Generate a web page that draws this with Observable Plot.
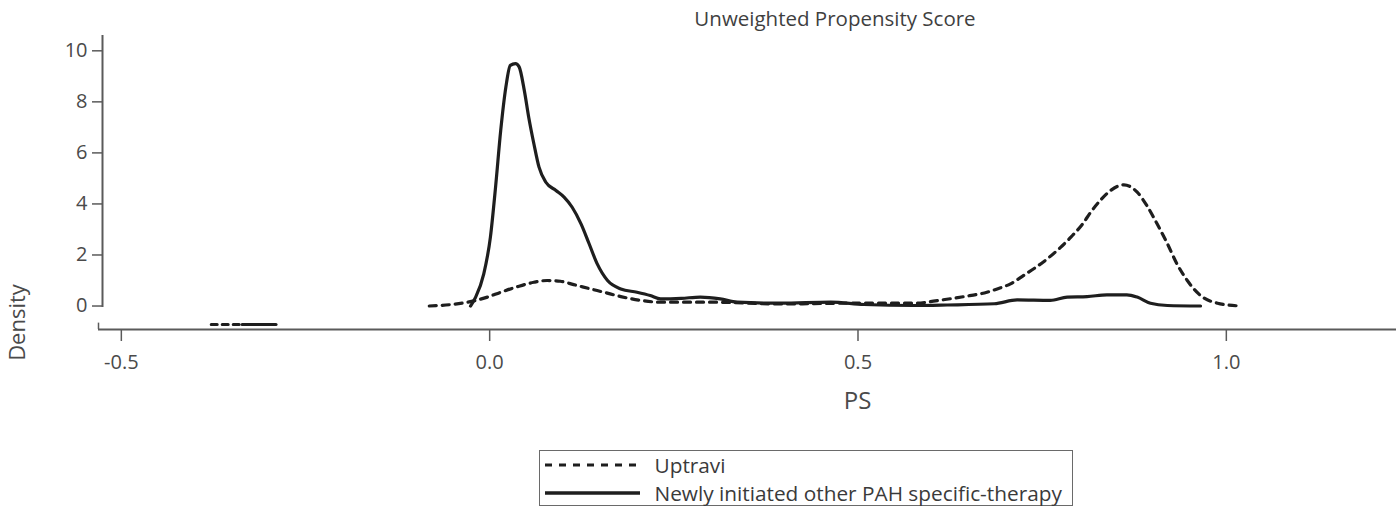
<!DOCTYPE html>
<html>
<head>
<meta charset="utf-8">
<script src="https://cdn.jsdelivr.net/npm/d3@7"></script>
<script src="https://cdn.jsdelivr.net/npm/@observablehq/plot@0.6"></script>
<style>
  html, body { margin: 0; padding: 0; background: #fff; }
  body { width: 1396px; height: 508px; position: relative; overflow: hidden; font-family: "Open Sans", "Noto Sans", sans-serif; }
  #title { position: absolute; left: 0; width: 1670px; top: 4px; text-align: center; font-size: 20.5px; color: #3f3f3f; }
  #chart { position: absolute; left: 0; top: 0; }
  #legend { position: absolute; left: 539px; top: 450px; width: 534px; height: 56px; border: 1.5px solid #6a6a6a; box-sizing: border-box; }
  .row { position: absolute; left: 0; height: 28px; display: flex; align-items: center; font-size: 20.8px; color: #3a3a3a; white-space: nowrap; }
  .row svg { margin-left: 4.5px; margin-right: 15px; }
</style>
</head>
<body>
<div id="title"></div>
<div id="chart"></div>
<div id="legend"></div>
<script>
// ---- data ----
const titleText = "Unweighted Propensity Score";
const seriesNames = ["Uptravi", "Newly initiated other PAH specific-therapy"];
const xTicks = [-0.5, 0.0, 0.5, 1.0];
const yTicks = [0, 2, 4, 6, 8, 10];

const psUptravi = [-0.082, -0.030, -0.003, 0.015, 0.038, 0.060, 0.078, 0.096, 0.114, 0.137, 0.155, 0.178, 0.205, 0.232, 0.304, 0.395, 0.486, 0.576, 0.612, 0.644, 0.675, 0.689, 0.707, 0.725, 0.757, 0.775, 0.789, 0.805, 0.816, 0.829, 0.843, 0.861, 0.879, 0.892, 0.906, 0.920, 0.933, 0.947, 0.965, 0.988, 1.019];
const densUptravi = [0, 0.15, 0.35, 0.54, 0.76, 0.93, 1.0, 0.97, 0.84, 0.67, 0.54, 0.37, 0.22, 0.15, 0.15, 0.08, 0.11, 0.11, 0.23, 0.37, 0.54, 0.67, 0.87, 1.2, 1.85, 2.3, 2.7, 3.22, 3.68, 4.14, 4.53, 4.75, 4.46, 3.94, 3.22, 2.44, 1.65, 1.0, 0.41, 0.11, 0];

const psOther = [-0.026, -0.019, -0.008, 0.001, 0.008, 0.015, 0.022, 0.028, 0.035, 0.040, 0.047, 0.053, 0.060, 0.067, 0.076, 0.090, 0.101, 0.112, 0.124, 0.135, 0.146, 0.160, 0.178, 0.200, 0.218, 0.232, 0.260, 0.286, 0.313, 0.336, 0.395, 0.463, 0.508, 0.576, 0.621, 0.685, 0.716, 0.761, 0.784, 0.811, 0.838, 0.865, 0.879, 0.897, 0.920, 0.965];
const densOther = [0, 0.35, 1.26, 2.7, 4.66, 6.88, 8.58, 9.43, 9.5, 9.37, 8.45, 7.4, 6.36, 5.44, 4.86, 4.53, 4.27, 3.87, 3.22, 2.44, 1.65, 1.0, 0.67, 0.54, 0.41, 0.28, 0.30, 0.35, 0.28, 0.15, 0.11, 0.15, 0.06, 0.02, 0.04, 0.09, 0.24, 0.22, 0.35, 0.37, 0.44, 0.44, 0.35, 0.11, 0.02, 0];

// small stray fragment near the x axis on the left
const strayDashX = [-0.378, -0.336];
const strayDashY = [-0.72, -0.72];
const straySolidX = [-0.336, -0.29];
const straySolidY = [-0.72, -0.72];

const xDomain = [-0.531, 1.231];
const yDomain = [-0.92, 10.6];
const yAxisBottom = -0.06;

// ---- build ----
const uptravi = psUptravi.map((x, i) => ({x, y: densUptravi[i]}));
const other = psOther.map((x, i) => ({x, y: densOther[i]}));
const strayA = strayDashX.map((x, i) => ({x, y: strayDashY[i]}));
const strayB = straySolidX.map((x, i) => ({x, y: straySolidY[i]}));

const axisColor = "#5a5a5a";
const textColor = "#4a4a4a";
const lineColor = "#1e1e1e";

const H = 440;
const plot = Plot.plot({
  width: 1396,
  height: H,
  marginLeft: 98,
  marginRight: 0,
  marginTop: 35,
  marginBottom: H - 329,
  style: {fontFamily: "'Open Sans', 'Noto Sans', sans-serif", background: "transparent", overflow: "visible"},
  x: {domain: xDomain},
  y: {domain: yDomain},
  marks: [
    Plot.axisX({ticks: xTicks, tickSize: 12, tickPadding: 13, tickFormat: d => d.toFixed(1), fontSize: 20, color: textColor, stroke: axisColor, strokeWidth: 1.5, label: null}),
    Plot.axisY({ticks: yTicks, tickSize: 10, tickPadding: 5, dx: 4, tickFormat: d => String(d), fontSize: 20, color: textColor, stroke: axisColor, strokeWidth: 1.5, label: null}),
    Plot.ruleY([yDomain[0]], {stroke: axisColor, strokeWidth: 2}),
    Plot.ruleX([xDomain[0]], {y1: yDomain[0], y2: yDomain[0] + 0.25, stroke: axisColor, strokeWidth: 1.5}),
    Plot.ruleX([xDomain[0]], {y1: yAxisBottom, y2: yDomain[1], dx: 4, stroke: axisColor, strokeWidth: 2}),
    Plot.text(["Density"], {frameAnchor: "bottom-left", dx: -74, dy: -7, rotate: -90, textAnchor: "middle", fontSize: 22, fill: textColor}),
    Plot.text(["PS"], {frameAnchor: "bottom", dx: 110, dy: 79, textAnchor: "middle", fontSize: 24, fill: textColor}),
    Plot.line(strayA, {x: "x", y: "y", stroke: lineColor, strokeWidth: 3, strokeDasharray: "6,5"}),
    Plot.line(strayB, {x: "x", y: "y", stroke: lineColor, strokeWidth: 3}),
    Plot.line(uptravi, {x: "x", y: "y", curve: "monotone-x", stroke: lineColor, strokeWidth: 3.2, strokeDasharray: "7,6"}),
    Plot.line(other, {x: "x", y: "y", curve: "monotone-x", stroke: lineColor, strokeWidth: 3.2})
  ]
});
document.getElementById("chart").appendChild(plot);

document.getElementById("title").textContent = titleText;

// legend
const legend = document.getElementById("legend");
const styles = [{dash: "7,7", top: 0}, {dash: null, top: 28}];
seriesNames.forEach((name, i) => {
  const row = document.createElement("div");
  row.className = "row";
  row.style.top = styles[i].top + "px";
  const svg = d3.create("svg").attr("width", 95).attr("height", 12);
  const ln = svg.append("line").attr("x1", 0).attr("x2", 95).attr("y1", 6).attr("y2", 6)
    .attr("stroke", lineColor).attr("stroke-width", i === 0 ? 3 : 3.5);
  if (styles[i].dash) ln.attr("stroke-dasharray", styles[i].dash);
  row.appendChild(svg.node());
  const span = document.createElement("span");
  span.textContent = name;
  row.appendChild(span);
  legend.appendChild(row);
});
</script>
</body>
</html>
